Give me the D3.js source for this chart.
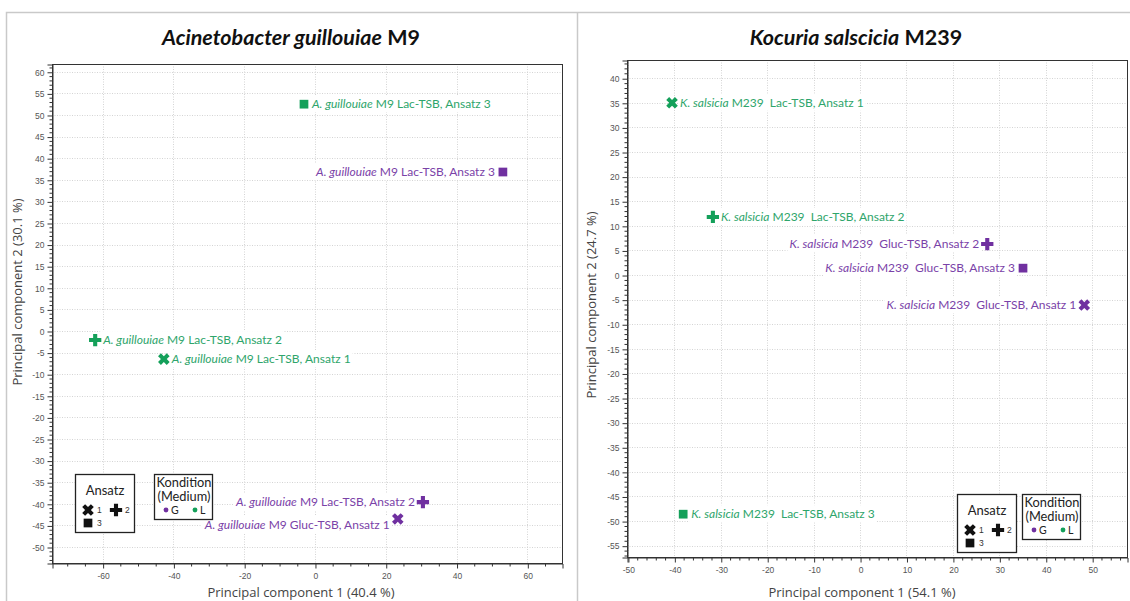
<!DOCTYPE html>
<html>
<head>
<meta charset="utf-8">
<script src="https://cdn.jsdelivr.net/npm/d3@7"></script>
<style>
  html, body { margin: 0; padding: 0; background: #fff; }
  svg { display: block; font-family: Lato, "Open Sans", sans-serif; }
  .pt-label { white-space: pre; }
</style>
</head>
<body>
<svg id="chart" width="1130" height="601"></svg>
<script>
// ---- Acinetobacter guillouiae M9 ----
const agTitleItalic = "Acinetobacter guillouiae";
const agTitleRest = " M9";
const agSpecies = "A. guillouiae";
const agSuffix = [
  " M9 Lac-TSB, Ansatz 3",
  " M9 Lac-TSB, Ansatz 3",
  " M9 Lac-TSB, Ansatz 2",
  " M9 Lac-TSB, Ansatz 1",
  " M9 Lac-TSB, Ansatz 2",
  " M9 Gluc-TSB, Ansatz 1"
];
const agPC1 = [-3.1, 53.1, -62.1, -42.7, 30.5, 23.4];
const agPC2 = [52.5, 36.8, -2.1, -6.5, -39.6, -43.5];
const agMedium = ["L", "G", "L", "L", "G", "G"];
const agAnsatz = [3, 3, 2, 1, 2, 1];
const agXTicks = [-60, -40, -20, 0, 20, 40, 60];
const agYTicks = [-50, -45, -40, -35, -30, -25, -20, -15, -10, -5, 0, 5, 10, 15, 20, 25, 30, 35, 40, 45, 50, 55, 60];
const agXDomain = [-74.3, 69.8];
const agYDomain = [-53.7, 61.8];
const agXTitle = "Principal component 1 (40.4 %)";
const agYTitle = "Principal component 2 (30.1 %)";

// ---- Kocuria salscicia M239 ----
const ksTitleItalic = "Kocuria salscicia";
const ksTitleRest = " M239";
const ksSpecies = "K. salsicia";
const ksSuffix = [
  " M239  Lac-TSB, Ansatz 1",
  " M239  Lac-TSB, Ansatz 2",
  " M239  Gluc-TSB, Ansatz 2",
  " M239  Gluc-TSB, Ansatz 3",
  " M239  Gluc-TSB, Ansatz 1",
  " M239  Lac-TSB, Ansatz 3"
];
const ksPC1 = [-40.5, -31.7, 27.4, 35.1, 48.3, -38.1];
const ksPC2 = [35.0, 11.8, 6.3, 1.4, -6.1, -48.6];
const ksMedium = ["L", "L", "G", "G", "G", "L"];
const ksAnsatz = [1, 2, 2, 3, 1, 3];
const ksXTicks = [-50, -40, -30, -20, -10, 0, 10, 20, 30, 40, 50];
const ksYTicks = [-55, -50, -45, -40, -35, -30, -25, -20, -15, -10, -5, 0, 5, 10, 15, 20, 25, 30, 35, 40];
const ksXDomain = [-50.2, 57.5];
const ksYDomain = [-57.3, 43.7];
const ksXTitle = "Principal component 1 (54.1 %)";
const ksYTitle = "Principal component 2 (24.7 %)";

// legend entries
const ansatzKeys = [1, 2, 3];
const mediumKeys = ["G", "L"];

const markerColor = { G: "#7030a0", L: "#14a05a" };
const textColor = { G: "#7a42a8", L: "#2ea56b" };

const svg = d3.select("#chart");

// panel frames
svg.append("path")
  .attr("d", "M6.5,601 V12.5 H1130 M577.5,12.5 V601")
  .attr("fill", "none").attr("stroke", "#c9c9c9").attr("stroke-width", 1.5);

function symbolFor(a) {
  if (a === 3) return d3.symbol().type(d3.symbolSquare).size(76)();
  return d3.symbol().type(d3.symbolCross).size(84)();
}

function drawPanel(p) {
  const g = svg.append("g");
  const x = d3.scaleLinear().domain(p.xDomain).range([p.left, p.right]);
  const y = d3.scaleLinear().domain(p.yDomain).range([p.bottom, p.top]);

  // title
  const t = g.append("text")
    .attr("x", p.titleX).attr("y", 45)
    .attr("text-anchor", "middle")
    .attr("font-family", "Lato, sans-serif")
    .attr("font-size", 21.5).attr("font-weight", 700).attr("fill", "#111");
  t.append("tspan").attr("font-style", "italic").text(p.titleItalic);
  t.append("tspan").text(p.titleRest);

  // grid
  const grid = g.append("g").attr("stroke", "#d4d4d4").attr("stroke-dasharray", "1,1.5").attr("stroke-width", 1);
  grid.selectAll("line.h").data(p.yTicks).join("line")
    .attr("x1", p.left).attr("x2", p.right)
    .attr("y1", d => Math.round(y(d)) + 0.5).attr("y2", d => Math.round(y(d)) + 0.5);
  grid.selectAll("line.v").data(p.xTicks).join("line")
    .attr("x1", d => Math.round(x(d)) + 0.5).attr("x2", d => Math.round(x(d)) + 0.5)
    .attr("y1", p.top).attr("y2", p.bottom);

  // points and labels (labels sit on small white plates that hide the grid)
  const pts = p.pc1.map((v, i) => ({
    pc1: v, pc2: p.pc2[i], medium: p.medium[i], ansatz: p.ansatz[i], suffix: p.suffix[i], i
  }));

  const lab = g.append("g");
  pts.forEach(d => {
    const px = x(d.pc1), py = y(d.pc2);
    const right = d.medium === "L";
    const nudge = (p.labelNudge && p.labelNudge[d.i]) || 0;
    const plate = lab.append("rect").attr("fill", "#fff");
    const txt = lab.append("text")
      .attr("class", "pt-label")
      .attr("x", right ? px + 8 : px - 8)
      .attr("y", py + 4 + nudge)
      .attr("text-anchor", right ? "start" : "end")
      .attr("font-size", 12)
      .attr("font-family", "Lato, sans-serif")
      .attr("fill", textColor[d.medium]);
    txt.append("tspan").attr("font-style", "italic").text(p.species);
    txt.append("tspan").text(d.suffix);
    const bb = txt.node().getBBox();
    plate.attr("x", bb.x - 2).attr("y", bb.y - 1).attr("width", bb.width + 4).attr("height", bb.height + 2);
  });

  // box
  g.append("rect")
    .attr("x", p.left + 0.5).attr("y", p.top + 0.5)
    .attr("width", p.right - p.left).attr("height", p.bottom - p.top)
    .attr("fill", "none").attr("stroke", "#333").attr("stroke-width", 1);

  // minor ticks
  const yMinor = d3.range(Math.ceil(p.yDomain[0]), p.yDomain[1], 1).filter(v => !p.yTicks.includes(v));
  const xMinor = d3.range(Math.ceil(p.xDomain[0] / p.xMinorStep) * p.xMinorStep, p.xDomain[1], p.xMinorStep)
    .filter(v => !p.xTicks.includes(v));

  const yAxis = d3.axisLeft(y).tickValues(p.yTicks).tickSize(5).tickPadding(3).tickFormat(d => String(d));
  const yAx = g.append("g").attr("transform", `translate(${p.left + 0.5},0.5)`).call(yAxis);
  yAx.selectAll("line.minor").data(yMinor).join("line").attr("class", "minor")
    .attr("x1", -3).attr("x2", 0).attr("y1", d => y(d)).attr("y2", d => y(d)).attr("stroke", "#333");

  const xAxis = d3.axisBottom(x).tickValues(p.xTicks).tickSize(5).tickPadding(4).tickFormat(d => String(d));
  const xAx = g.append("g").attr("transform", `translate(0.5,${p.bottom + 0.5})`).call(xAxis);
  xAx.selectAll("line.minor").data(xMinor).join("line").attr("class", "minor")
    .attr("x1", d => x(d)).attr("x2", d => x(d)).attr("y1", 0).attr("y2", 3).attr("stroke", "#333");

  [yAx, xAx].forEach(a => {
    a.select(".domain").attr("stroke", "#333");
    a.selectAll(".tick line").attr("stroke", "#333");
    a.selectAll(".tick text").attr("fill", "#555").attr("font-size", 8.5)
      .attr("font-family", "'Liberation Sans', Arial, sans-serif");
  });

  // axis titles
  g.append("text")
    .attr("x", p.xTitleX).attr("y", 597)
    .attr("text-anchor", "middle").attr("font-size", 13).attr("fill", "#444")
    .attr("font-family", "'Open Sans', sans-serif")
    .text(p.xTitle);
  g.append("text")
    .attr("transform", `translate(${p.yTitleX},${p.yTitleY}) rotate(-90)`)
    .attr("text-anchor", "middle").attr("font-size", 13).attr("fill", "#444")
    .attr("font-family", "'Open Sans', sans-serif")
    .text(p.yTitle);

  g.selectAll("path.pt").data(pts).join("path")
    .attr("class", "pt")
    .attr("d", d => symbolFor(d.ansatz))
    .attr("transform", d => `translate(${x(d.pc1)},${y(d.pc2)}) rotate(${d.ansatz === 1 ? 45 : 0})`)
    .attr("fill", d => markerColor[d.medium]);

  // legend: Ansatz
  const la = g.append("g").attr("transform", `translate(${p.legA[0]},${p.legA[1]})`);
  la.append("rect").attr("x", 0.5).attr("y", 0.5).attr("width", 59).attr("height", 58)
    .attr("fill", "#fff").attr("stroke", "#222").attr("stroke-width", 1.3);
  la.append("text").attr("x", 30).attr("y", 21).attr("text-anchor", "middle")
    .attr("font-size", 13).attr("fill", "#222").text("Ansatz");
  const aPos = [[13, 36], [41, 36], [13, 49]];
  ansatzKeys.forEach((k, i) => {
    la.append("path").attr("d", symbolFor(k))
      .attr("transform", `translate(${aPos[i][0]},${aPos[i][1]}) rotate(${k === 1 ? 45 : 0})`)
      .attr("fill", "#111");
    la.append("text").attr("x", aPos[i][0] + 9).attr("y", aPos[i][1] + 3)
      .attr("font-size", 8.5).attr("fill", "#333")
      .attr("font-family", "'Liberation Sans', Arial, sans-serif").text(k);
  });

  // legend: Kondition (Medium)
  const lk = g.append("g").attr("transform", `translate(${p.legK[0]},${p.legK[1]})`);
  lk.append("rect").attr("x", 0.5).attr("y", 0.5).attr("width", 58).attr("height", 45)
    .attr("fill", "#fff").attr("stroke", "#222").attr("stroke-width", 1.3);
  lk.append("text").attr("x", 30).attr("y", 13).attr("text-anchor", "middle")
    .attr("font-size", 12.8).attr("fill", "#222").text("Kondition");
  lk.append("text").attr("x", 30).attr("y", 27).attr("text-anchor", "middle")
    .attr("font-size", 12.8).attr("fill", "#222").text("(Medium)");
  mediumKeys.forEach((k, i) => {
    const cx = 12 + i * 29;
    lk.append("circle").attr("cx", cx).attr("cy", 36).attr("r", 2.4).attr("fill", markerColor[k]);
    lk.append("text").attr("x", cx + 5).attr("y", 40)
      .attr("font-size", 10.5).attr("fill", "#222").text(k);
  });
}

drawPanel({
  titleItalic: agTitleItalic, titleRest: agTitleRest, titleX: 291,
  species: agSpecies, suffix: agSuffix, pc1: agPC1, pc2: agPC2,
  medium: agMedium, ansatz: agAnsatz, labelNudge: { 5: 6 },
  xTicks: agXTicks, yTicks: agYTicks, xDomain: agXDomain, yDomain: agYDomain, xMinorStep: 5,
  left: 52, right: 562, top: 64, bottom: 563,
  xTitle: agXTitle, yTitle: agYTitle, xTitleX: 301, yTitleX: 22, yTitleY: 292,
  legA: [75, 474], legK: [154, 474]
});

drawPanel({
  titleItalic: ksTitleItalic, titleRest: ksTitleRest, titleX: 856,
  species: ksSpecies, suffix: ksSuffix, pc1: ksPC1, pc2: ksPC2,
  medium: ksMedium, ansatz: ksAnsatz,
  xTicks: ksXTicks, yTicks: ksYTicks, xDomain: ksXDomain, yDomain: ksYDomain, xMinorStep: 2,
  left: 627, right: 1127, top: 60, bottom: 557,
  xTitle: ksXTitle, yTitle: ksYTitle, xTitleX: 862, yTitleX: 596, yTitleY: 305,
  legA: [957, 494], legK: [1022, 494]
});
</script>
</body>
</html>
